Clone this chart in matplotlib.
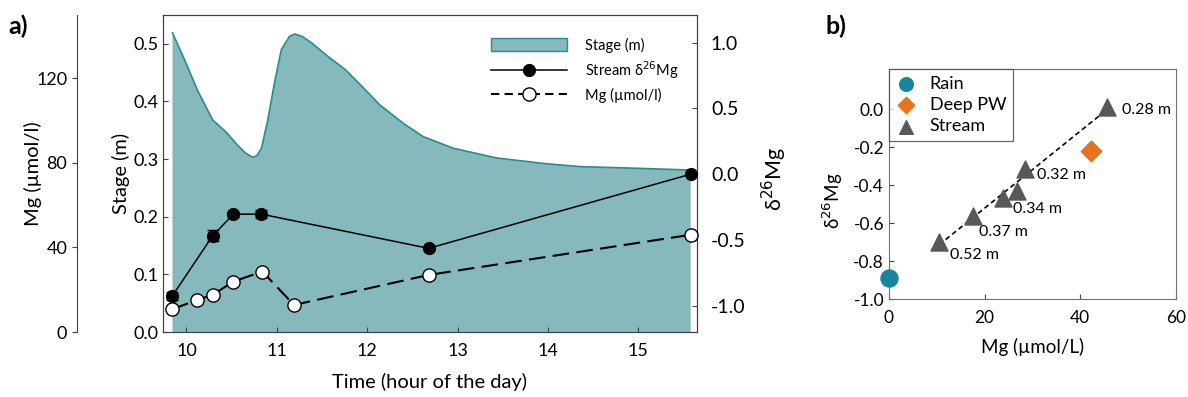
import matplotlib.pyplot as plt
from matplotlib.patches import Patch
from matplotlib.lines import Line2D
import numpy as np

plt.rcParams['font.family'] = ['Lato', 'DejaVu Sans']
plt.rcParams['axes.unicode_minus'] = False

# a) 时间序列
stage_t = [9.845, 9.98, 10.12, 10.29, 10.45, 10.56, 10.65, 10.73, 10.78, 10.83, 10.90, 10.98,
           11.05, 11.14, 11.20, 11.28, 11.39, 11.55, 11.76, 11.95, 12.14, 12.40, 12.62,
           12.95, 13.43, 13.98, 14.35, 15.0, 15.58]
stage_m = [0.519, 0.472, 0.420, 0.368, 0.345, 0.325, 0.311, 0.303, 0.306, 0.319, 0.368, 0.4375,
           0.49, 0.513, 0.517, 0.513, 0.501, 0.480, 0.455, 0.425, 0.394, 0.362, 0.339,
           0.319, 0.302, 0.292, 0.287, 0.284, 0.281]
d26_t = [9.845, 10.29, 10.52, 10.83, 12.68, 15.58]
d26 = [-0.924, -0.468, -0.304, -0.304, -0.564, 0.0]
d26_err = [0.03, 0.04, 0.02, 0.03, 0.01, 0.01]
mg_t = [9.845, 10.12, 10.29, 10.52, 10.84, 11.19, 12.68, 15.58]
mg = [10.8, 15.2, 17.6, 23.9, 28.6, 12.8, 27.0, 46.0]

# b) 散点
rain_mg, rain_d = [0.0], [-0.89]
pw_mg, pw_d = [42.2], [-0.22]
st_mg = [10.5, 17.5, 23.9, 26.7, 28.5, 45.7]
st_d = [-0.70, -0.56, -0.465, -0.43, -0.315, 0.01]
st_lab = ['0.52 m', '0.37 m', '', '0.34 m', '0.32 m', '0.28 m']
lab_off = [(8, -9), (4.5, -12), (0, 0), (-2.7, -13), (8.4, -4.5), (10.4, -2)]

teal_fill = '#86b9bc'
teal_edge = '#2a8c8e'
spine_c = '#404040'

fig = plt.figure(figsize=(11.88, 3.97), dpi=100)

ax = fig.add_axes([0.1372, 0.1637, 0.4495, 0.7985])
ax.fill_between(stage_t, stage_m, 0, facecolor=teal_fill, edgecolor='none')
ax.plot(stage_t, stage_m, color=teal_edge, lw=1.2)
ax.set_xlim(9.74, 15.65)
ax.set_ylim(0, 0.55)
ax.set_xticks([10, 11, 12, 13, 14, 15])
ax.set_yticks([0.0, 0.1, 0.2, 0.3, 0.4, 0.5])
ax.set_yticklabels(['0.0', '0.1', '0.2', '0.3', '0.4', '0.5'])
ax.tick_params(direction='in', labelsize=13, color=spine_c)
ax.tick_params(axis='x', pad=8)
ax.set_ylabel('Stage (m)', fontsize=14.5)
ax.yaxis.set_label_coords(-0.062, 0.5)
ax.set_xlabel('Time (hour of the day)', fontsize=14.5)
ax.xaxis.set_label_coords(0.5, -0.128)
for s in ax.spines.values():
    s.set_color(spine_c)

# 右侧 δ26Mg 轴
ax2 = ax.twinx()
ax2.errorbar(d26_t, d26, yerr=d26_err, color='black', lw=1.1, marker='o', ms=8.5,
             mfc='black', mec='black', capsize=4, elinewidth=1.1, clip_on=False, zorder=5)
ax2.set_ylim(-1.2, 1.21)
ax2.set_yticks([-1.0, -0.5, 0.0, 0.5, 1.0])
ax2.set_yticklabels(['-1.0', '-0.5', '0.0', '0.5', '1.0'])
ax2.tick_params(direction='in', labelsize=14, pad=10, color=spine_c)
ax2.set_ylabel('δ$^{26}$Mg', fontsize=15.5)
ax2.yaxis.set_label_coords(1.118, 0.483)
for s in ax2.spines.values():
    s.set_color(spine_c)

# 左侧偏移的 Mg 轴
ax3 = ax.twinx()
ax3.plot(mg_t, mg, color='black', lw=1.5, ls=(0, (8, 3.5)), marker='o', ms=9.5,
         mfc='white', mec='black', mew=1.0, clip_on=False, zorder=6)
ax3.set_ylim(0, 150)
ax3.set_yticks([0, 40, 80, 120])
ax3.yaxis.tick_left()
ax3.yaxis.set_label_position('left')
ax3.spines['left'].set_visible(True)
ax3.spines['left'].set_position(('axes', -0.161))
ax3.spines['left'].set_color(spine_c)
ax3.spines['right'].set_visible(False)
ax3.spines['top'].set_visible(False)
ax3.spines['bottom'].set_visible(False)
ax3.tick_params(axis='y', direction='out', labelsize=13, color=spine_c)
ax3.set_ylabel('Mg (µmol/l)', fontsize=14.5)
ax3.yaxis.set_label_coords(-0.227, 0.5)

handles = [Patch(facecolor=teal_fill, edgecolor=teal_edge),
           Line2D([], [], color='black', lw=1.1, marker='o', ms=8.5, mfc='black'),
           Line2D([], [], color='black', lw=1.5, ls=(0, (4, 2.5)), marker='o', ms=9.5, mfc='white')]
ax3.legend(handles, ['Stage (m)', 'Stream δ$^{26}$Mg', 'Mg (µmol/l)'], loc='upper left',
           bbox_to_anchor=(0.59, 0.97), frameon=False, fontsize=10.5, handlelength=5.2,
           handletextpad=1.2, labelspacing=0.45, handleheight=1.0)

fig.text(0.007, 0.915, 'a)', fontsize=18, fontweight='bold')

# b) 面板
bx = fig.add_axes([0.7483, 0.2461, 0.2414, 0.5793])
bx.scatter(rain_mg, rain_d, s=150, color='#17869c', marker='o', label='Rain', clip_on=False, zorder=4)
bx.scatter(pw_mg, pw_d, s=110, color='#e8731e', marker='D', label='Deep PW', zorder=4)
bx.scatter(st_mg, st_d, s=150, color='#55595c', marker='^', label='Stream', zorder=4)
k, b = np.polyfit(st_mg, st_d, 1)
xx = np.array([min(st_mg), max(st_mg)])
bx.plot(xx, k * xx + b, color='black', lw=1.2, ls=(0, (3, 2)), zorder=3)
for x, y, t, o in zip(st_mg, st_d, st_lab, lab_off):
    if t:
        bx.annotate(t, (x, y), xytext=o, textcoords='offset points', fontsize=11.5,
                    ha='left', va='center')
bx.set_xlim(0, 60)
bx.set_ylim(-1.0, 0.21)
bx.set_xticks([0, 20, 40, 60])
bx.set_yticks([-1.0, -0.8, -0.6, -0.4, -0.2, 0.0])
bx.set_yticklabels(['-1.0', '-0.8', '-0.6', '-0.4', '-0.2', '0.0'])
bx.tick_params(direction='in', labelsize=12.5, color=spine_c)
bx.tick_params(axis='x', pad=8)
bx.set_xlabel('Mg (µmol/L)', fontsize=13.5, labelpad=8)
bx.set_ylabel('δ$^{26}$Mg', fontsize=13.5)
bx.yaxis.set_label_coords(-0.153, 0.43)
for s in bx.spines.values():
    s.set_color('#707070')
leg = bx.legend(loc='upper left', fontsize=13, frameon=True, fancybox=False,
                borderaxespad=0, handlelength=1.2, handletextpad=0.7, labelspacing=0.3,
                borderpad=0.35, markerscale=0.8)
leg.get_frame().set_edgecolor('#404040')
leg.get_frame().set_linewidth(0.9)

fig.text(0.695, 0.915, 'b)', fontsize=18, fontweight='bold')

plt.savefig('out.png', dpi=100)
